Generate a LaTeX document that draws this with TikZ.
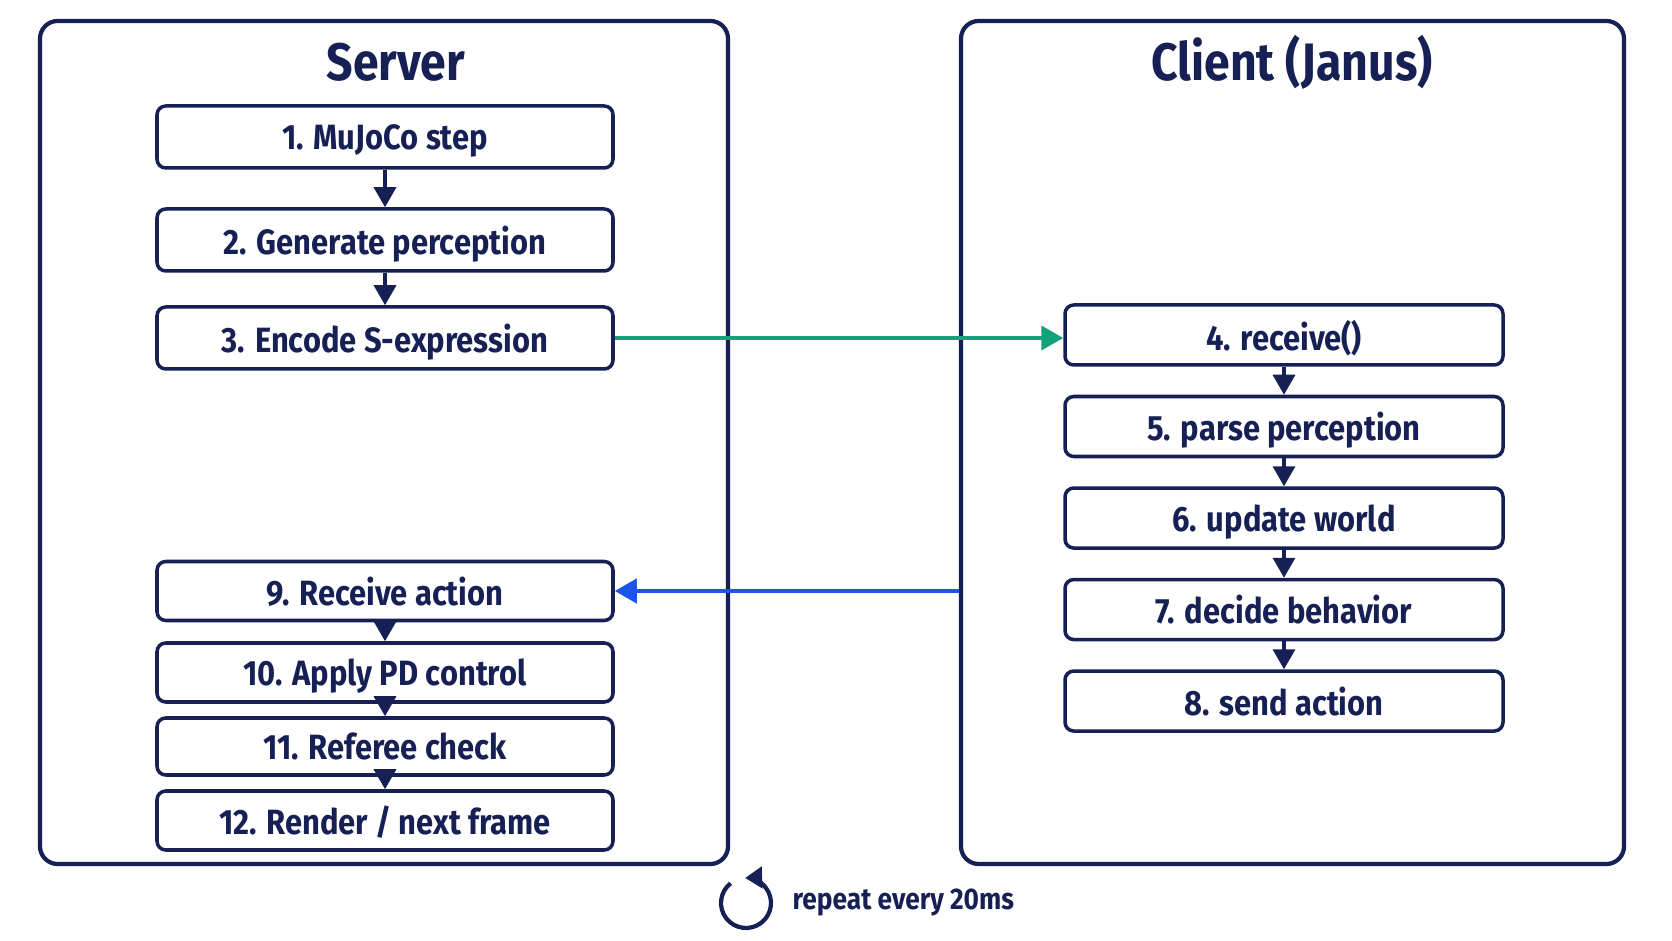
\documentclass[tikz,border=0pt]{standalone}
\usepackage{fontspec}
\setmainfont{Fira Sans}[FakeStretch=0.88]
\usepackage{xcolor}
\usetikzlibrary{arrows.meta, positioning}
\definecolor{navyink}{RGB}{22,32,84}
\definecolor{sendgreen}{RGB}{20,160,120}
\definecolor{replyblue}{RGB}{28,86,232}

\begin{document}
\begin{tikzpicture}[
  x=0.1mm, y=-0.1mm,
  font=\bfseries, text=navyink,
  panel/.style={draw=navyink, line width=1.2pt, rounded corners=5pt,
    minimum height=84.3mm, inner sep=0pt},
  title/.style={font=\bfseries\fontsize{15}{18}\selectfont},
  stepbox/.style={draw=navyink, line width=1pt, rounded corners=2.5pt, fill=white,
    inner sep=0pt, text depth=0pt, font=\bfseries\fontsize{10}{12}\selectfont},
  srvbox/.style={stepbox, minimum width=45.6mm, minimum height=5.9mm},
  clibox/.style={stepbox, minimum width=43.8mm, minimum height=6mm},
  flow/.style={-{Triangle[length=2mm, width=2.2mm]}, line width=1pt, navyink},
  msg/.style={-{Triangle[length=2.2mm, width=2.4mm]}, line width=1.2pt}
]
  \useasboundingbox (0,0) rectangle (1672,941);
  % the two sides
  \node[panel, minimum width=68.8mm] (server) at (384,442.5) {};
  \node[panel, minimum width=66.3mm] (client) at (1292.5,442.5) {};
  \node[title] (serverT) at (396,62) {Server};
  \node[title] (clientT) at (1292,62) {Client (Janus)};

  % server steps
  \node[srvbox, minimum height=6.2mm] (s1) at (385,137) {1. MuJoCo step};
  \node[srvbox, minimum height=6.2mm] (s2) at (385,240) {2. Generate perception};
  \node[srvbox, minimum height=6.2mm] (s3) at (385,338) {3. Encode S-expression};
  \node[srvbox] (s9) at (385,591) {9. Receive action};
  \node[srvbox] (s10) at (385,672.5) {10. Apply PD control};
  \node[srvbox, minimum height=5.7mm] (s11) at (385,746.5) {11. Referee check};
  \node[srvbox] (s12) at (385,820.5) {12. Render / next frame};

  % client steps
  \node[clibox] (c4) at (1284,335) {4. receive()};
  \node[clibox, below=2.8mm of c4] (c5) {5. parse perception};
  \node[clibox, below=2.8mm of c5] (c6) {6. update world};
  \node[clibox, below=2.8mm of c6] (c7) {7. decide behavior};
  \node[clibox, below=2.8mm of c7] (c8) {8. send action};

  \draw[flow] (s1) -- (s2);
  \draw[flow] (s2) -- (s3);
  \draw[flow] (s9) -- (s10);
  \draw[flow] (s10) -- (s11);
  \draw[flow] (s11) -- (s12);
  \draw[flow] (c4) -- (c5);
  \draw[flow] (c5) -- (c6);
  \draw[flow] (c6) -- (c7);
  \draw[flow] (c7) -- (c8);

  % messages
  \draw[msg, sendgreen] (s3.east) -- (s3.east -| c4.west);
  \draw[msg, replyblue] (s9.east -| client.west) -- (s9.east);

  % loop note
  \node[circle, minimum size=5mm, inner sep=0pt] (loop) at (746,903) {};
  \begin{scope}[shift={(loop.center)}, x=1mm, y=1mm]
    \draw[navyink, line width=1.2pt, -{Triangle[length=1.7mm, width=2.1mm]}]
      (128:2.5) arc[start angle=128, end angle=452, radius=2.5];
  \end{scope}
  \node[anchor=west, inner sep=0pt, font=\bfseries\fontsize{8.5}{10}\selectfont] (repeat) at (792,903) {repeat every 20ms};
\end{tikzpicture}
\end{document}
